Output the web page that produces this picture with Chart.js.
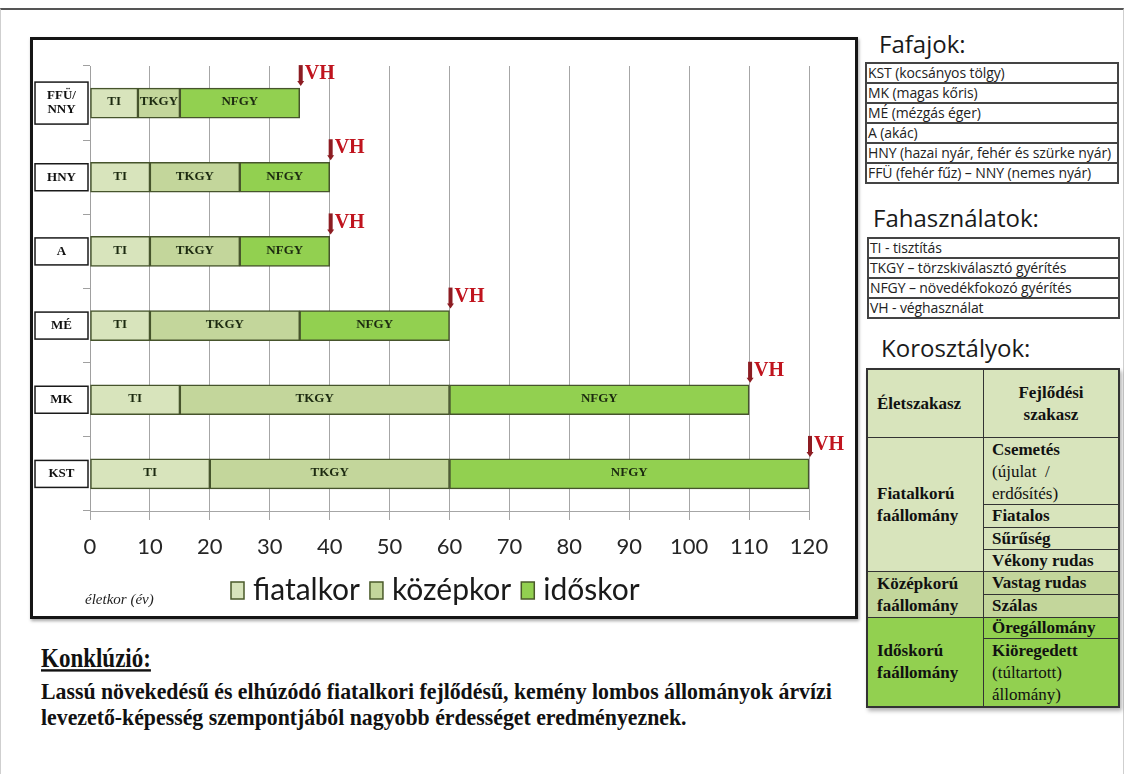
<!DOCTYPE html>
<html>
<head>
<meta charset="utf-8">
<title>Fafajok korosztályai</title>
<script src="https://cdn.jsdelivr.net/npm/chart.js@4.4.1/dist/chart.umd.min.js"></script>
<style>
  body { margin: 0; width: 1124px; height: 774px; background: #fff; position: relative; overflow: hidden; }
  .abs { position: absolute; }
  #slideEdge { left: 0; top: 8px; width: 1124px; height: 766px; box-sizing: border-box;
    border-top: 2px solid #555; border-left: 1px solid #cfcfcf; border-right: 1px solid #cfcfcf; }
  #chartFrame { left: 30px; top: 37px; width: 828px; height: 582px; box-sizing: border-box;
    border: 3px solid #151515; box-shadow: 1px 2px 3px rgba(0,0,0,.35); background: #fff; }
  #chartFrame canvas { position: absolute; left: 0; top: 0; }
  .heading { font-family: 'Open Sans', sans-serif; font-size: 24px; line-height: 24px; color: #1a1a1a; white-space: nowrap; }
  .list { border: 2px solid #444; box-sizing: border-box; font-family: 'Open Sans', sans-serif; font-size: 14px; color: #222; background: #fff; }
  .list div { height: 18px; line-height: 18px; padding-left: 1px; white-space: nowrap; letter-spacing: -0.1px; }
  .list div + div { border-top: 2px solid #444; }
  #ageTable { left: 866px; top: 368px; width: 254px; height: 340px; border: 1px solid #333; box-sizing: border-box;
    box-shadow: 2px 3px 4px rgba(0,0,0,.3); }
  .cell { position: absolute; box-sizing: border-box; border: 1px solid #333; display: flex; align-items: center;
    font-family: 'Liberation Serif', 'Times New Roman', serif; font-size: 17px; line-height: 22px; font-weight: bold; color: #111; white-space: nowrap; }
  .cell.l { left: 0; width: 117px; padding-left: 9px; }
  .cell.r { left: 116px; width: 136px; padding-left: 8px; }
  .cell.top { align-items: flex-start; padding-top: 1px; }
  .cell span { font-weight: normal; }
  .young { background: #d8e4bc; }
  .mid { background: #c3d69b; }
  .old { background: #92d050; }
  .concl { font-family: 'Liberation Serif', 'Times New Roman', serif; font-weight: bold; color: #111; white-space: nowrap; transform-origin: 0 0; }
</style>
</head>
<body>
<div id="slideEdge" class="abs"></div>

<div id="chartFrame" class="abs">
  <canvas id="ageChart" width="822" height="576"></canvas>
</div>

<div class="abs heading" style="left:879px; top:32px;">Fafajok:</div>
<div class="abs list" style="left:865px; top:62px; width:254px; height:122px;">
  <div>KST (kocsányos tölgy)</div>
  <div>MK (magas kőris)</div>
  <div>MÉ (mézgás éger)</div>
  <div>A (akác)</div>
  <div>HNY (hazai nyár, fehér és szürke nyár)</div>
  <div>FFÜ (fehér fűz) – NNY (nemes nyár)</div>
</div>

<div class="abs heading" style="left:873px; top:206px;">Fahasználatok:</div>
<div class="abs list" style="left:867px; top:237px; width:253px; height:82px;">
  <div>TI - tisztítás</div>
  <div>TKGY – törzskiválasztó gyérítés</div>
  <div>NFGY – növedékfokozó gyérítés</div>
  <div>VH - véghasználat</div>
</div>

<div class="abs heading" style="left:881px; top:336px;">Korosztályok:</div>
<div id="ageTable" class="abs">
  <div class="cell l young" style="top:0; height:69px;"><div>Életszakasz</div></div>
  <div class="cell r young" style="top:0; height:69px; justify-content:center; padding-left:0;"><div style="text-align:center;">Fejlődési<br>szakasz</div></div>
  <div class="cell l young" style="top:68px; height:135px;"><div>Fiatalkorú<br>faállomány</div></div>
  <div class="cell r young top" style="top:68px; height:68px;"><div>Csemetés<br><span>(újulat&nbsp; /</span><br><span>erdősítés)</span></div></div>
  <div class="cell r young" style="top:135px; height:24px;"><div>Fiatalos</div></div>
  <div class="cell r young" style="top:158px; height:23px;"><div>Sűrűség</div></div>
  <div class="cell r young" style="top:180px; height:23px;"><div>Vékony rudas</div></div>
  <div class="cell l mid" style="top:202px; height:47px;"><div>Középkorú<br>faállomány</div></div>
  <div class="cell r mid" style="top:202px; height:24px;"><div>Vastag rudas</div></div>
  <div class="cell r mid" style="top:225px; height:24px;"><div>Szálas</div></div>
  <div class="cell l old" style="top:248px; height:90px;"><div>Időskorú<br>faállomány</div></div>
  <div class="cell r old" style="top:248px; height:22px;"><div>Öregállomány</div></div>
  <div class="cell r old top" style="top:269px; height:69px;"><div>Kiöregedett<br><span>(túltartott)</span><br><span>állomány)</span></div></div>
</div>

<div class="abs concl" style="left:41px; top:644px; font-size:23px; line-height:24px; text-decoration:underline; transform:scale(1, 1.2);">Konklúzió:</div>
<div class="abs concl" style="left:41px; top:679px; font-size:21.8px; line-height:23.6px; transform:scale(1, 1.1);">
  Lassú növekedésű és elhúzódó fiatalkori fejlődésű, kemény lombos állományok árvízi<br>
  levezető-képesség szempontjából nagyobb érdességet eredményeznek.
</div>

<script>
// values (years)
var categories = [['FFÜ/', 'NNY'], 'HNY', 'A', 'MÉ', 'MK', 'KST'];
var fiatalkor = [8, 10, 10, 10, 15, 20];   // TI
var kozepkor = [7, 15, 15, 25, 45, 40];    // TKGY
var idoskor = [20, 15, 15, 25, 50, 60];    // NFGY
var vegHasznalat = [35, 40, 40, 60, 110, 120];
var seriesNames = ['fiatalkor', 'középkor', 'időskor'];
var phaseNames = ['TI', 'TKGY', 'NFGY'];
var seriesColors = ['#d8e4bc', '#c3d69b', '#92d050'];
var xMin = 0, xMax = 120, xStep = 10;
var axisTitle = 'életkor (év)';
var vhLabel = 'VH';

var serif = '"Liberation Serif", "Times New Roman", serif';

// white boxes with the species code left of the axis
var labelBoxes = {
  id: 'labelBoxes',
  afterDatasetsDraw: function(chart) {
    var ctx = chart.ctx, yScale = chart.scales.y, left = chart.chartArea.left;
    ctx.save();
    ctx.font = 'bold 13px ' + serif;
    ctx.textAlign = 'center';
    ctx.textBaseline = 'middle';
    categories.forEach(function(label, i) {
      var lines = Array.isArray(label) ? label : [label];
      var y = yScale.getPixelForValue(i);
      var h = lines.length > 1 ? 42 : 27;
      var x0 = left - 55, w = 53;
      ctx.fillStyle = '#fff';
      ctx.fillRect(x0, y - h / 2, w, h);
      ctx.strokeStyle = '#1a1a1a';
      ctx.lineWidth = 1.5;
      ctx.strokeRect(x0, y - h / 2, w, h);
      ctx.fillStyle = '#111';
      lines.forEach(function(t, k) {
        ctx.fillText(t, x0 + w / 2, y + (k - (lines.length - 1) / 2) * 14);
      });
    });
    ctx.restore();
  }
};

// TI / TKGY / NFGY inside the segments
var segmentText = {
  id: 'segmentText',
  afterDatasetsDraw: function(chart) {
    var ctx = chart.ctx;
    ctx.save();
    ctx.font = 'bold 13px ' + serif;
    ctx.fillStyle = '#1c2a10';
    ctx.textAlign = 'center';
    ctx.textBaseline = 'middle';
    chart.data.datasets.forEach(function(ds, d) {
      chart.getDatasetMeta(d).data.forEach(function(bar) {
        ctx.fillText(phaseNames[d], (bar.x + bar.base) / 2, bar.y - 1);
      });
    });
    ctx.restore();
  }
};

// red arrow + VH at the final harvest age
var vhMarks = {
  id: 'vhMarks',
  afterDatasetsDraw: function(chart) {
    var ctx = chart.ctx, xs = chart.scales.x, ys = chart.scales.y;
    ctx.save();
    vegHasznalat.forEach(function(v, i) {
      var x = xs.getPixelForValue(v) + 1;
      var top = ys.getPixelForValue(i) - 15;
      ctx.strokeStyle = '#8c1c22';
      ctx.lineWidth = 4;
      ctx.beginPath();
      ctx.moveTo(x, top - 23);
      ctx.lineTo(x, top - 6);
      ctx.stroke();
      ctx.fillStyle = '#8c1c22';
      ctx.beginPath();
      ctx.moveTo(x - 3.5, top - 7);
      ctx.lineTo(x + 3.5, top - 7);
      ctx.lineTo(x, top - 2);
      ctx.closePath();
      ctx.fill();
      ctx.fillStyle = '#c0141e';
      ctx.font = 'bold 20px ' + serif;
      ctx.textAlign = 'left';
      ctx.textBaseline = 'middle';
      ctx.fillText(vhLabel, x + 4, top - 14);
    });
    ctx.restore();
  }
};

// legend row under the axis, with the axis title on its left
var bottomLegend = {
  id: 'bottomLegend',
  afterDraw: function(chart) {
    var ctx = chart.ctx, area = chart.chartArea;
    var y = area.bottom + 79;
    var x = area.left + 141;
    ctx.save();
    ctx.font = 'italic 15px ' + serif;
    ctx.fillStyle = '#222';
    ctx.textBaseline = 'middle';
    ctx.fillText(axisTitle, area.left - 5, y + 10);
    ctx.font = '30px Lato, sans-serif';
    chart.data.datasets.forEach(function(ds) {
      ctx.fillStyle = ds.backgroundColor;
      ctx.fillRect(x, y - 8, 13, 17);
      ctx.strokeStyle = '#4a5a2a';
      ctx.lineWidth = 1.5;
      ctx.strokeRect(x, y - 8, 13, 17);
      ctx.fillStyle = '#1a1a1a';
      ctx.fillText(ds.label, x + 22, y);
      x += 22 + ctx.measureText(ds.label).width + 10;
    });
    ctx.restore();
  }
};

function makeDataset(i, values) {
  return {
    label: seriesNames[i],
    data: values,
    backgroundColor: seriesColors[i],
    borderColor: '#46542c',
    borderWidth: 1.5,
    borderSkipped: false,
    barThickness: 30
  };
}

function createAgeChart() {
  var ctx = document.getElementById('ageChart').getContext('2d');
  Chart.defaults.font.family = 'Lato, sans-serif';
  return new Chart(ctx, {
    type: 'bar',
    data: {
      labels: categories,
      datasets: [
        makeDataset(0, fiatalkor),
        makeDataset(1, kozepkor),
        makeDataset(2, idoskor)
      ]
    },
    options: {
      indexAxis: 'y',
      responsive: false,
      animation: false,
      devicePixelRatio: 1,
      layout: { padding: { top: 26, right: 46, left: 0, bottom: 0 } },
      plugins: { legend: { display: false }, tooltip: { enabled: false } },
      scales: {
        y: {
          stacked: true,
          grid: { offset: true, drawOnChartArea: false, tickLength: 7, color: '#a0a0a0' },
          border: { color: '#a0a0a0' },
          ticks: { display: false },
          afterFit: function(scale) { scale.width = 57; }
        },
        x: {
          stacked: true,
          min: xMin,
          max: xMax,
          ticks: { stepSize: xStep, color: '#262626', padding: 14, font: { size: 22 } },
          grid: { color: '#a6a6a6', tickLength: 9 },
          border: { color: '#a6a6a6' },
          afterFit: function(scale) { scale.height = 105; }
        }
      }
    },
    plugins: [labelBoxes, segmentText, vhMarks, bottomLegend]
  });
}

createAgeChart();
</script>
</body>
</html>
